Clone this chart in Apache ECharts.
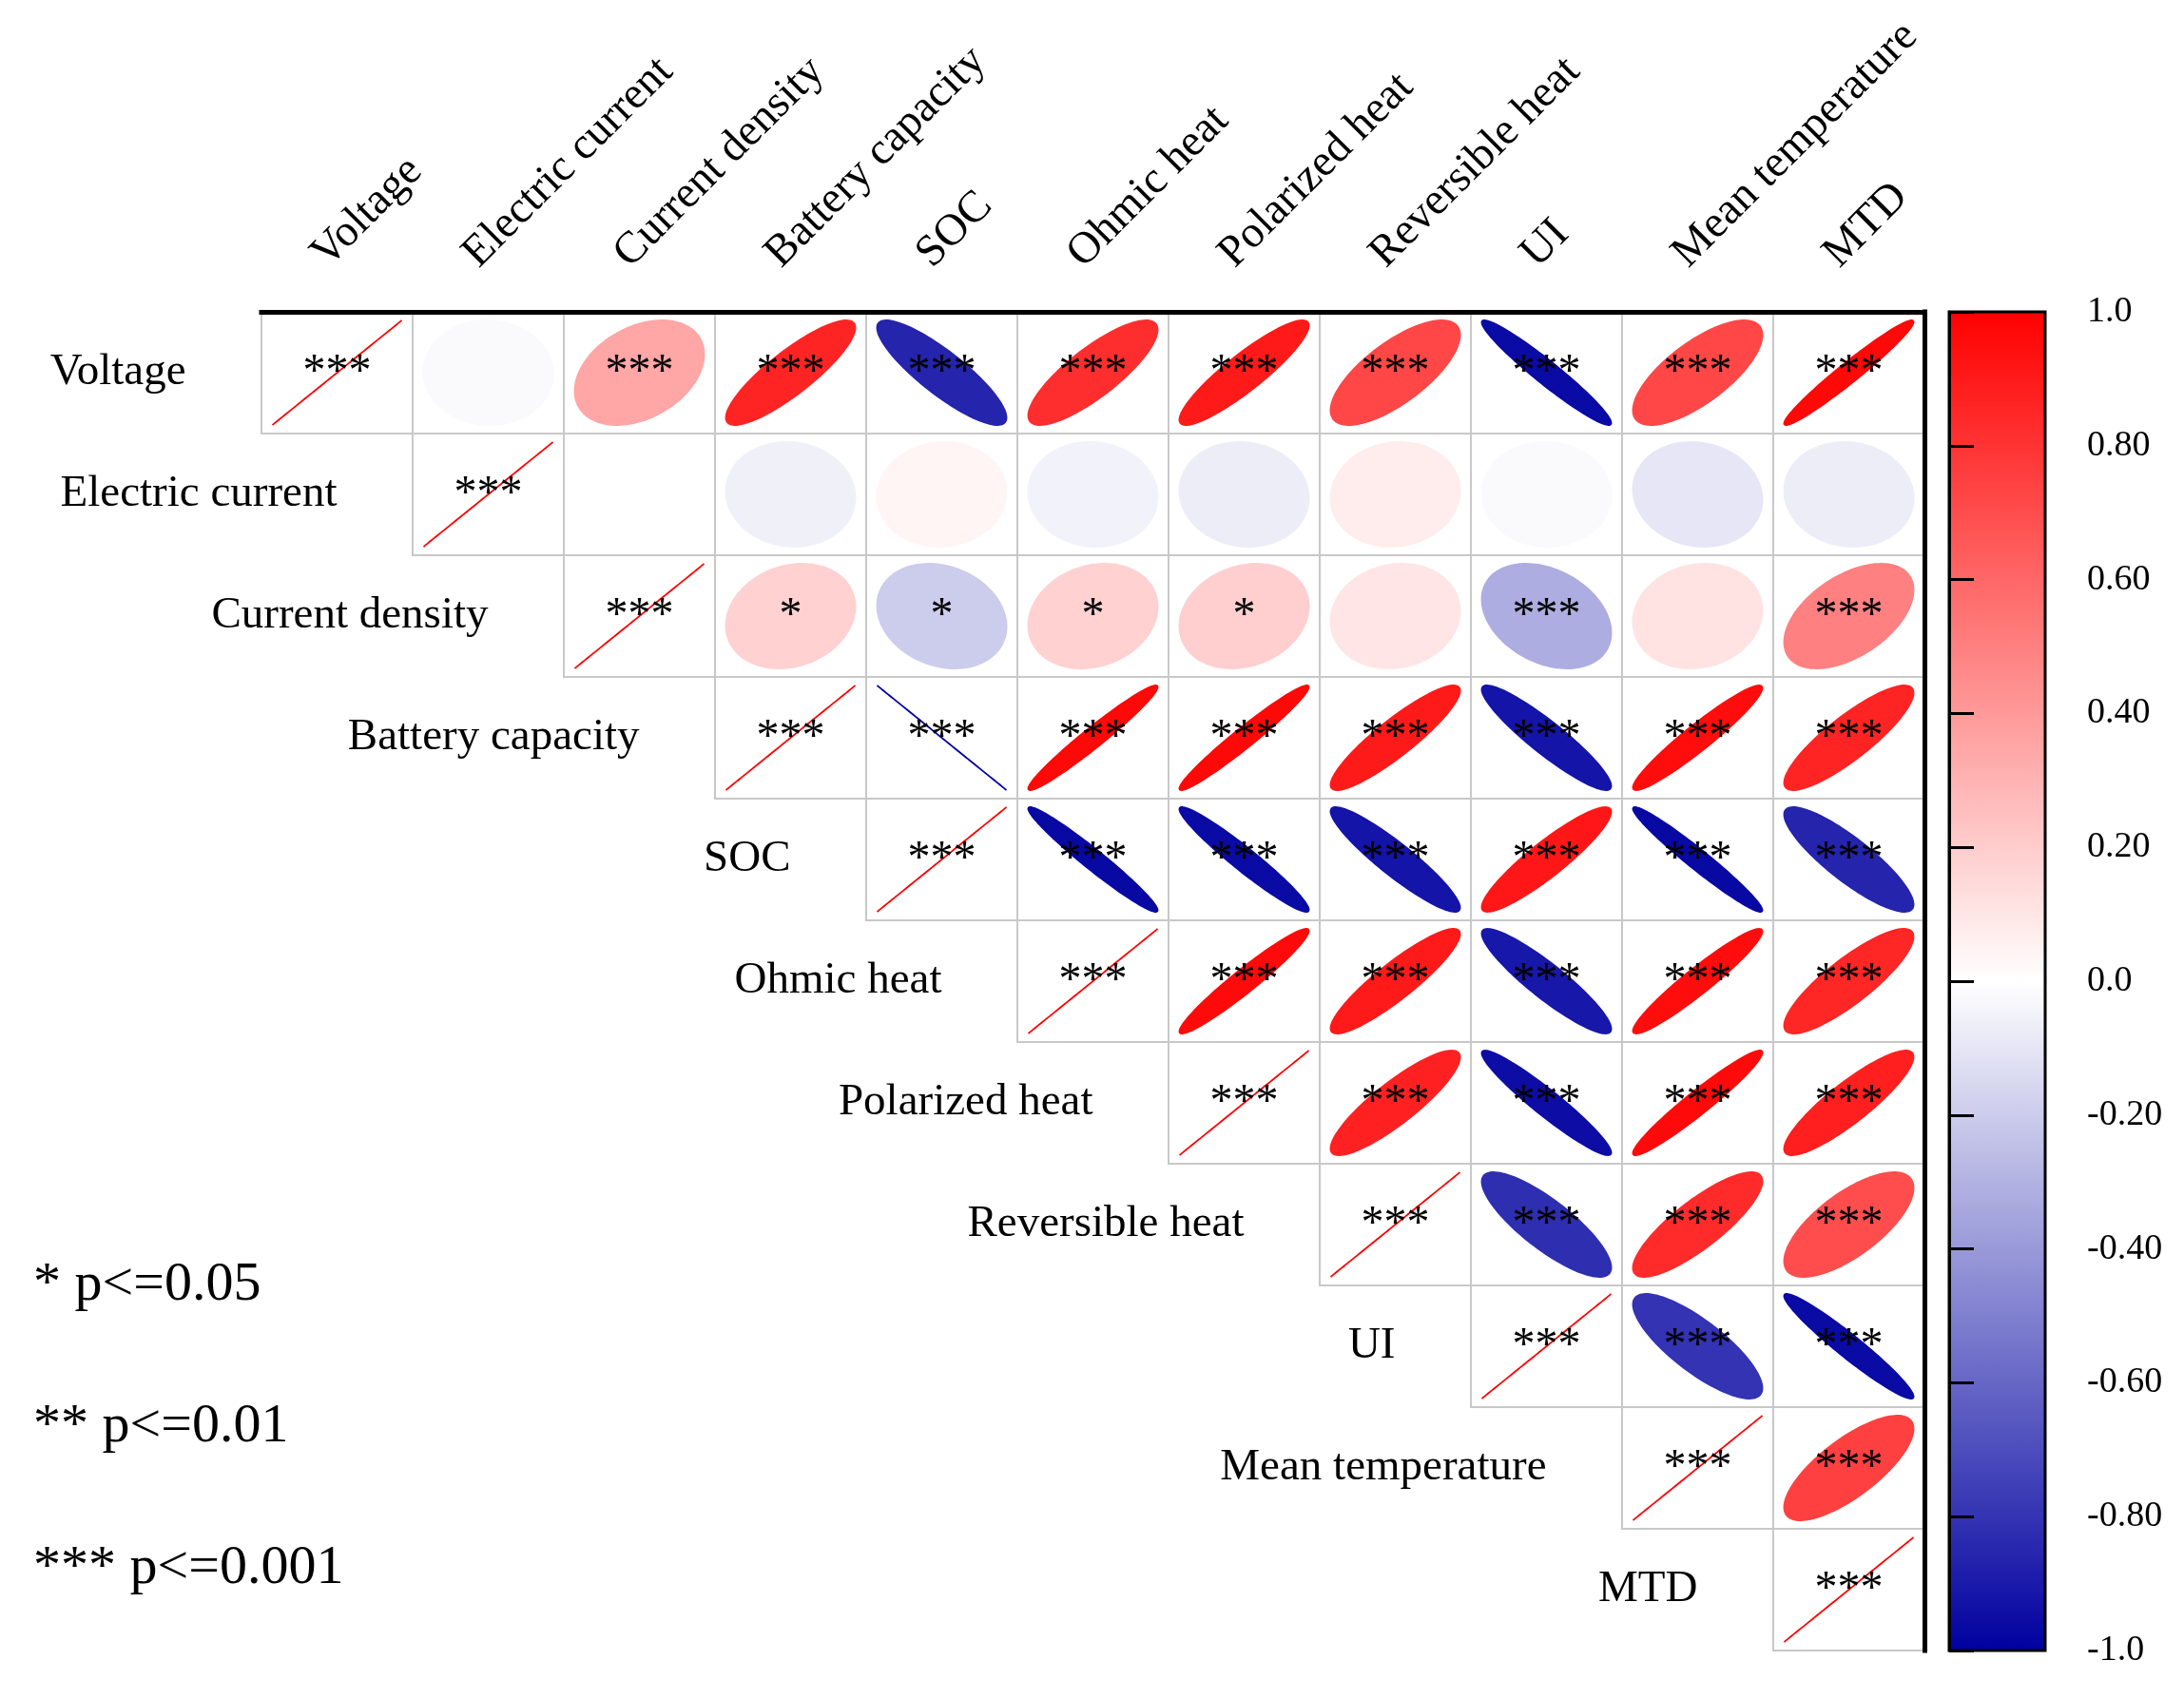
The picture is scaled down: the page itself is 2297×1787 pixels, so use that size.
<!DOCTYPE html>
<html><head><meta charset="utf-8">
<script src="https://cdn.jsdelivr.net/npm/echarts@6/dist/echarts.min.js"></script>
<style>html,body{margin:0;padding:0;background:#fff}#c{width:2297px;height:1787px}</style>
</head><body><div id="c"></div>
<script>
// ---- data ----
const variables = ['Voltage','Electric current','Current density','Battery capacity','SOC','Ohmic heat','Polarized heat','Reversible heat','UI','Mean temperature','MTD'];
// correlation coefficients, each row starts at the diagonal
const corrVoltage     = [1, -0.02, 0.35, 0.86, -0.86, 0.82, 0.90, 0.72, -0.96, 0.72, 0.97];
const corrCurrent     = [1, 0.00, -0.06, 0.04, -0.05, -0.07, 0.07, -0.02, -0.10, -0.07];
const corrDensity     = [1, 0.18, -0.20, 0.18, 0.19, 0.10, -0.32, 0.11, 0.50];
const corrCapacity    = [1, -1.00, 0.97, 0.97, 0.90, -0.92, 0.95, 0.86];
const corrSOC         = [1, -0.97, -0.96, -0.92, 0.91, -0.97, -0.86];
const corrOhmic       = [1, 0.96, 0.90, -0.91, 0.95, 0.85];
const corrPolarized   = [1, 0.87, -0.95, 0.96, 0.88];
const corrReversible  = [1, -0.82, 0.83, 0.70];
const corrUI          = [1, -0.80, -0.96];
const corrMeanTemp    = [1, 0.75];
const corrMTD         = [1];
// significance marks, same layout
const sigVoltage    = ['***','','***','***','***','***','***','***','***','***','***'];
const sigCurrent    = ['***','','','','','','','','',''];
const sigDensity    = ['***','*','*','*','*','','***','','***'];
const sigCapacity   = ['***','***','***','***','***','***','***','***'];
const sigSOC        = ['***','***','***','***','***','***','***'];
const sigOhmic      = ['***','***','***','***','***','***'];
const sigPolarized  = ['***','***','***','***','***'];
const sigReversible = ['***','***','***','***'];
const sigUI         = ['***','***','***'];
const sigMeanTemp   = ['***','***'];
const sigMTD        = ['***'];
const legendTexts = ['* p<=0.05', '** p<=0.01', '*** p<=0.001'];
const colorbarColors = ['#0000A0', '#FFFFFF', '#FF0000']; // -1, 0, 1
const colorbarMin = -1, colorbarMax = 1, colorbarInterval = 0.2;

const corrRows = [corrVoltage,corrCurrent,corrDensity,corrCapacity,corrSOC,corrOhmic,corrPolarized,corrReversible,corrUI,corrMeanTemp,corrMTD];
const sigRows = [sigVoltage,sigCurrent,sigDensity,sigCapacity,sigSOC,sigOhmic,sigPolarized,sigReversible,sigUI,sigMeanTemp,sigMTD];

const cells = [];
const cellSig = [];
corrRows.forEach((rowVals, row) => {
  rowVals.forEach((v, k) => {
    cells.push([row + k, row, v]);
    cellSig.push(sigRows[row][k]);
  });
});

const SERIF = "'Times New Roman','Liberation Serif',serif";

function renderCell(params, api) {
  const col = api.value(0), row = api.value(1), r = api.value(2);
  const c = api.coord([col, row]);
  const s = api.size([1, 1]);
  const a = s[0] * 0.428, b = s[1] * 0.43;
  const d = Math.acos(Math.max(-1, Math.min(1, r)));
  const pts = [];
  for (let k = 0; k <= 120; k++) {
    const t = k / 120 * 2 * Math.PI;
    pts.push([c[0] + a * Math.cos(t + d / 2), c[1] - b * Math.cos(t - d / 2)]);
  }
  const color = api.visual('color');
  return {
    type: 'group',
    children: [
      {type: 'rect', shape: {x: c[0] - s[0] / 2, y: c[1] - s[1] / 2, width: s[0], height: s[1]},
       style: {fill: 'none', stroke: '#c8c8c8', lineWidth: 2}},
      {type: 'polygon', shape: {points: pts}, style: {fill: color, stroke: color, lineWidth: 1.8}},
      {type: 'text', x: c[0], y: c[1],
       style: {text: cellSig[params.dataIndex], fontSize: 48, fontFamily: SERIF, fill: '#000', align: 'center', verticalAlign: 'middle'}}
    ]
  };
}

function renderRowLabel(params, api) {
  const i = api.value(0);
  const c = api.coord([i, i]);
  const s = api.size([1, 1]);
  return {type: 'text', x: c[0] - s[0], y: c[1],
    style: {text: variables[i], fontSize: 47, fontFamily: SERIF, fill: '#000', align: 'right', verticalAlign: 'middle'}};
}

function renderColorbar(params, api) {
  const p1 = api.coord([0, api.value(1)]);
  const p0 = api.coord([1, api.value(0)]);
  return {type: 'rect', shape: {x: p1[0], y: p1[1], width: p0[0] - p1[0], height: p0[1] - p1[1]},
    style: {fill: new echarts.graphic.LinearGradient(0, 0, 0, 1, [
      {offset: 0, color: colorbarColors[2]}, {offset: 0.5, color: colorbarColors[1]}, {offset: 1, color: colorbarColors[0]}]),
      stroke: '#000', lineWidth: 3}};
}

const chart = echarts.init(document.getElementById('c'), null, {renderer: 'canvas'});
chart.setOption({
  backgroundColor: '#fff',
  animation: false,
  grid: [
    {left: 275, top: 328, width: 1749, height: 1408},
    {left: 2050, top: 328, width: 101, height: 1408}
  ],
  xAxis: [
    {type: 'category', data: variables, position: 'top', gridIndex: 0, z: 10,
     axisLine: {show: true, lineStyle: {color: '#000', width: 5, cap: 'square'}},
     axisTick: {show: false}, splitLine: {show: false},
     axisLabel: {interval: 0, rotate: -45, margin: 0, align: 'left', verticalAlign: 'bottom', padding: [0, 0, 28, 25],
       fontSize: 47, fontFamily: SERIF, color: '#000'}},
    {type: 'value', gridIndex: 1, min: 0, max: 1, show: false}
  ],
  yAxis: [
    {type: 'category', data: variables, inverse: true, position: 'right', gridIndex: 0, z: 10,
     axisLine: {show: true, lineStyle: {color: '#000', width: 5, cap: 'square'}},
     axisTick: {show: false}, axisLabel: {show: false}, splitLine: {show: false}},
    {type: 'value', gridIndex: 1, min: colorbarMin, max: colorbarMax, interval: colorbarInterval, position: 'right', z: 10,
     axisLine: {show: true, lineStyle: {color: '#000', width: 3}},
     axisTick: {show: true, inside: false, length: 26, lineStyle: {color: '#000', width: 3}},
     splitLine: {show: false},
     axisLabel: {margin: 44, fontSize: 38, fontFamily: SERIF, color: '#000',
       formatter: v => (Math.abs(v) < 1e-9 || Math.abs(Math.abs(v) - 1) < 1e-9) ? (Math.abs(v) < 1e-9 ? 0 : v).toFixed(1) : v.toFixed(2)}}
  ],
  visualMap: {type: 'continuous', show: false, min: colorbarMin, max: colorbarMax, dimension: 2, seriesIndex: 0,
    inRange: {color: colorbarColors}},
  series: [
    {type: 'custom', xAxisIndex: 0, yAxisIndex: 0, data: cells, renderItem: renderCell, z: 2},
    {type: 'custom', xAxisIndex: 0, yAxisIndex: 0, data: variables.map((v, i) => [i, i]), renderItem: renderRowLabel, z: 3},
    {type: 'custom', xAxisIndex: 1, yAxisIndex: 1, data: [[colorbarMin, colorbarMax]], renderItem: renderColorbar, z: 2}
  ],
  graphic: legendTexts.map((t, i) => ({
    type: 'text', x: 35, y: 1352 + i * 149,
    style: {text: t, fontSize: 58, fontFamily: SERIF, fill: '#000', align: 'left', verticalAlign: 'middle'}
  }))
});
</script></body></html>
